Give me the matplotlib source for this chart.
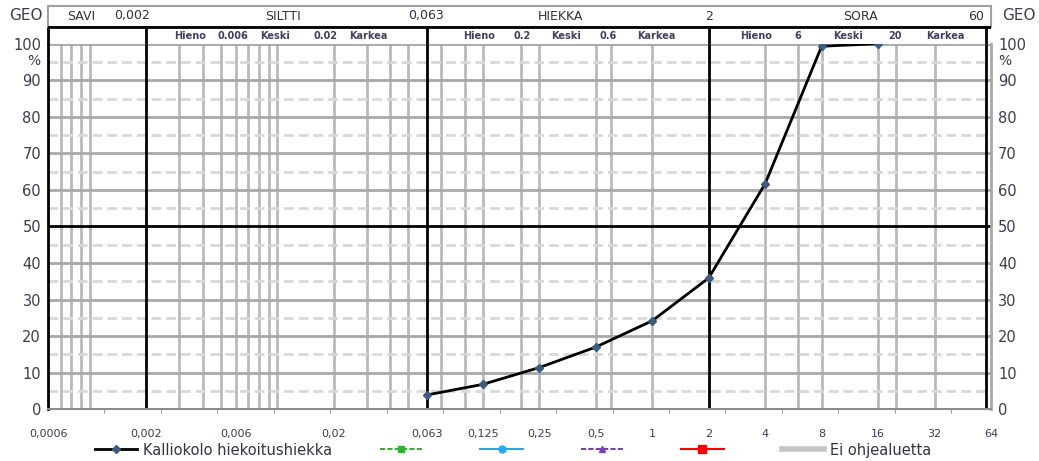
"""Grain size distribution chart (rakeisuuskäyrä) for one sand sample."""

import matplotlib

matplotlib.use("Agg")
import matplotlib.pyplot as plt
from matplotlib.patches import Rectangle
from matplotlib.ticker import FixedLocator, NullFormatter

# measured sample: sieve size (mm) and passing (%)
sieve_mm = [0.063, 0.125, 0.25, 0.5, 1, 2, 4, 8, 16]
passing_pct = [3.9, 6.8, 11.4, 17.0, 24.2, 35.9, 61.7, 99.3, 100.0]
sample_name = "Kalliokolo hiekoitushiekka"
envelope_name = "Ei ohjealuetta"

x_tick_values = [0.0006, 0.002, 0.006, 0.02, 0.063, 0.125, 0.25, 0.5, 1, 2, 4, 8, 16, 32, 64]
x_tick_labels = ["0,0006", "0,002", "0,006", "0,02", "0,063", "0,125", "0,25",
                 "0,5", "1", "2", "4", "8", "16", "32", "64"]

# grid lines of the standard form
grid_sizes = [0.0007, 0.0008, 0.0009, 0.001, 0.003, 0.004, 0.005, 0.006, 0.007,
              0.008, 0.009, 0.01, 0.02, 0.03, 0.04, 0.05, 0.075, 0.1, 0.125, 0.2,
              0.25, 0.5, 0.6, 1, 4, 6, 8, 16, 20, 32]
class_limits = [0.002, 0.063, 2, 60]

W, H = 1039, 461
TEXT = "#3c3c50"

fig = plt.figure(figsize=(W / 100, H / 100), dpi=100)
plt.rcParams["lines.scale_dashes"] = False

# plot area in pixels: left 48, right 991, top 43.7, bottom 409.2
ax = fig.add_axes([48 / W, (H - 409.2) / H, 943 / W, (409.2 - 43.7) / H])
ax.set_xscale("log")
ax.set_xlim(0.0006, 64)
ax.set_ylim(0, 100)

ax.vlines(grid_sizes, 0, 100, colors="#bababa", lw=2, zorder=1)
ax.hlines(list(range(5, 100, 10)), 0.0006, 64, colors="#d8d8d8", lw=2,
          linestyles=(0, (7, 3.6)), zorder=1)
ax.hlines([10, 20, 30, 40, 60, 70, 80, 90, 100], 0.0006, 64, colors="#a8a8a8",
          lw=2, zorder=1.5)
ax.hlines([50], 0.0006, 64, colors="black", lw=2, zorder=2)
ax.vlines(class_limits, 0, 100, colors="black", lw=2, zorder=2)

ax.plot(sieve_mm, passing_pct, color="black", lw=2, marker="D", ms=4.5,
        mfc="#3d5a80", mec="#3d5a80", label=sample_name, zorder=5)
# empty comparison series, shown only in the legend
ax.plot([], [], color="#33b033", ls="--", marker="s", ms=5, label=" ")
ax.plot([], [], color="#29a8e8", ls="-", marker="o", ms=5, label=" ")
ax.plot([], [], color="#7a3fb0", ls="--", marker="^", ms=5, label=" ")
ax.plot([], [], color="#ff0000", ls="-", marker="s", ms=6, label=" ")
ax.plot([], [], color="#c4c4c4", ls="-", lw=4, label=envelope_name)

ax.spines["top"].set_visible(False)
ax.spines["left"].set_color("black")
ax.spines["left"].set_linewidth(2)
ax.spines["right"].set_color("#a8a8a8")
ax.spines["right"].set_linewidth(2)
ax.spines["bottom"].set_color("#8c8c8c")
ax.spines["bottom"].set_linewidth(1.5)

ax.xaxis.set_major_locator(FixedLocator(x_tick_values))
ax.set_xticklabels(x_tick_labels)
ax.xaxis.set_minor_locator(FixedLocator([0.0006 * 2 ** k for k in range(1, 17)]))
ax.xaxis.set_minor_formatter(NullFormatter())
ax.tick_params(axis="x", which="major", length=0, pad=14, labelsize=8, labelcolor=TEXT)
ax.tick_params(axis="x", which="minor", length=3, color="#8c8c8c", direction="out")

ax.set_yticks(range(0, 101, 10))
ax.tick_params(axis="y", length=0, pad=5, labelsize=10.5, labelcolor=TEXT,
               labelleft=True, labelright=True)

fig.text(40 / W, (H - 61) / H, "%", ha="right", va="center", fontsize=10, color=TEXT)
fig.text(998 / W, (H - 61) / H, "%", ha="left", va="center", fontsize=10, color=TEXT)
fig.text(43 / W, (H - 16) / H, "GEO", ha="right", va="center", fontsize=11, color=TEXT)
fig.text(1002 / W, (H - 16) / H, "GEO", ha="left", va="center", fontsize=11, color=TEXT)

# header: soil classes and their subdivisions
hdr = fig.add_axes([48 / W, (H - 43.7) / H, 943 / W, (43.7 - 6) / H], sharex=ax)
hdr.set_ylim(0, 37.7)
hdr.axis("off")
hdr.add_patch(Rectangle((0, 17 / 37.7), 1, 20.7 / 37.7, transform=hdr.transAxes,
                        fill=False, edgecolor="#a0a0a0", lw=1.5, clip_on=False))
hdr.axhline(17, color="black", lw=2)
hdr.vlines([0.0006] + class_limits, 0, 17, colors="black", lw=2, clip_on=False)

main_classes = [("SAVI", 0.0009), ("0,002", 0.00169), ("SILTTI", 0.0108),
                ("0,063", 0.0625), ("HIEKKA", 0.324), ("2", 2), ("SORA", 12.9),
                ("60", 53)]
sub_classes = [("Hieno", 0.00345), ("0.006", 0.0058), ("Keski", 0.0098),
               ("0.02", 0.018), ("Karkea", 0.0307), ("Hieno", 0.12), ("0.2", 0.203),
               ("Keski", 0.348), ("0.6", 0.583), ("Karkea", 1.05), ("Hieno", 3.56),
               ("6", 5.94), ("Keski", 11.0), ("20", 19.6), ("Karkea", 36.7)]
for label, pos in main_classes:
    hdr.text(pos, 27.7, label, ha="center", va="center", fontsize=9, color="#303040")
for label, pos in sub_classes:
    hdr.text(pos, 8, label, ha="center", va="center", fontsize=7, fontweight="bold",
             color="#404060")

fig.legend(*ax.get_legend_handles_labels(), loc="center left",
           bbox_to_anchor=(95 / W, (H - 450) / H), ncol=6, frameon=False,
           fontsize=10.5, handlelength=2.9, handletextpad=0.42, columnspacing=3.25,
           borderpad=0, borderaxespad=0, labelcolor="#333344")

fig.savefig("out.png", dpi=100)
